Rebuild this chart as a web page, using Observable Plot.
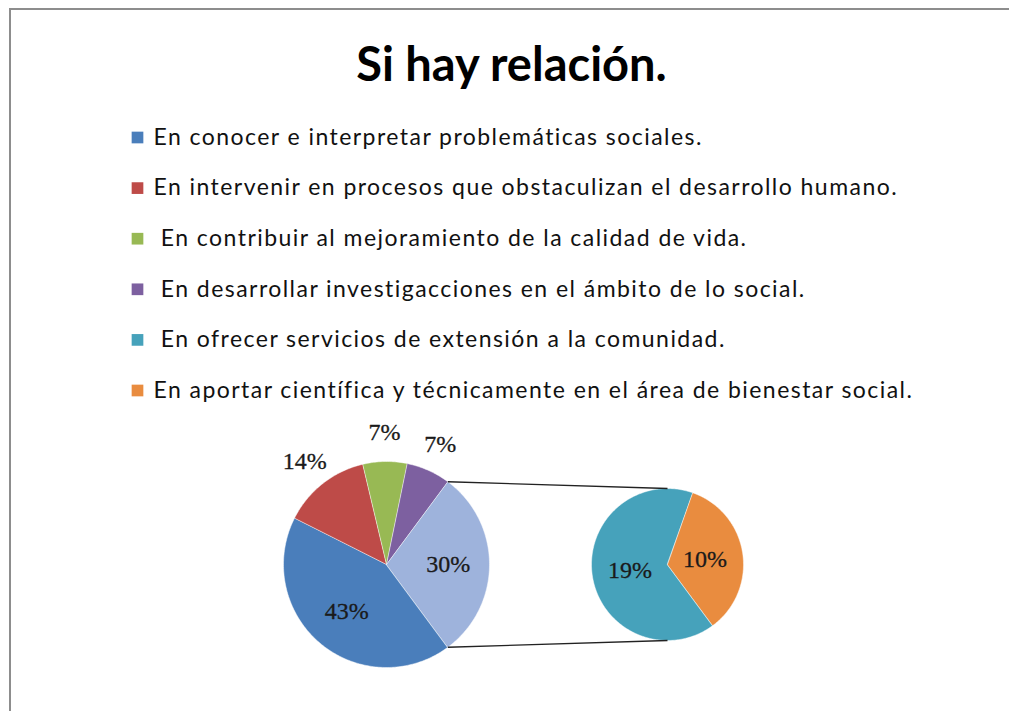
<!DOCTYPE html>
<html>
<head>
<meta charset="utf-8">
<script src="https://cdn.jsdelivr.net/npm/d3@7"></script>
<script src="https://cdn.jsdelivr.net/npm/@observablehq/plot@0.6"></script>
<style>
  html, body { margin: 0; padding: 0; background: #fff; }
  #wrap { position: relative; width: 1009px; height: 711px; overflow: hidden; }
  #frame { position: absolute; left: 9px; top: 8px; right: -4px; bottom: -4px;
           border-top: 2px solid #8d8d8d; border-left: 2px solid #8d8d8d; pointer-events: none; }
  svg text { white-space: pre; }
</style>
</head>
<body>
<div id="wrap"><div id="chart"></div><div id="frame"></div></div>
<script>
// ---- data ----
const titleText = "Si hay relación.";
const categories = [
  "En conocer e interpretar problemáticas sociales.",
  "En intervenir en procesos que obstaculizan el desarrollo humano.",
  " En contribuir al mejoramiento de la calidad de vida.",
  " En desarrollar investigacciones en el ámbito de lo social.",
  " En ofrecer servicios de extensión a la comunidad.",
  "En aportar científica y técnicamente en el área de bienestar social."
];
const percents = [43, 14, 7, 7, 19, 10];
const otherName = "Otros";
const otherPercent = 30;     // label shown on the combined slice
const mainCount = 4;         // first four categories stay in the main pie
const palette = ["#4A7EBB", "#BE4B48", "#98B954", "#7D60A0", "#46A2BB", "#E98C3F", "#9EB3DC"];

// ---- layout ----
const W = 1009, H = 711;
const main = {cx: 386, cy: 564, r: 103};
const second = {cx: 667, cy: 564, r: 76};

function buildSlices(items, pie, start, labelR) {
  const total = d3.sum(items, d => d.value);
  const polys = [], labels = [];
  let a = start;
  for (const it of items) {
    const a0 = a, a1 = a + it.value / total * 2 * Math.PI;
    const n = Math.max(2, Math.ceil((a1 - a0) / (Math.PI / 180)));
    polys.push({cat: it.cat, x: pie.cx, y: pie.cy});
    for (let i = 0; i <= n; i++) {
      const t = a0 + (a1 - a0) * i / n;
      polys.push({cat: it.cat, x: pie.cx + pie.r * Math.cos(t), y: pie.cy + pie.r * Math.sin(t)});
    }
    const m = (a0 + a1) / 2, k = labelR(it.value);
    labels.push({text: it.value + "%", x: pie.cx + pie.r * k * Math.cos(m), y: pie.cy + pie.r * k * Math.sin(m)});
    a = a1;
  }
  return {polys, labels};
}

const mainItems = categories.slice(0, mainCount).map((c, i) => ({cat: c, value: percents[i]}))
  .concat([{cat: otherName, value: otherPercent}]);
const secondItems = categories.slice(mainCount).map((c, i) => ({cat: c, value: percents[mainCount + i]}));

const mainTotal = d3.sum(mainItems, d => d.value);
const half = otherPercent / mainTotal * Math.PI;   // half angle of combined slice
const A = buildSlices(mainItems, main, half, v => v >= 20 ? 0.6 : 1.28);
const B = buildSlices(secondItems, second, half, v => 0.5);

const links = [
  {x1: main.cx + main.r * Math.cos(-half), y1: main.cy + main.r * Math.sin(-half), x2: second.cx, y2: second.cy - second.r},
  {x1: main.cx + main.r * Math.cos(half), y1: main.cy + main.r * Math.sin(half), x2: second.cx, y2: second.cy + second.r}
];

const legend = categories.map((c, i) => ({cat: c, i}));
const rowY = i => 137 + i * 50.6;

const chart = Plot.plot({
  width: W, height: H, margin: 0,
  x: {domain: [0, W], range: [0, W], axis: null},
  y: {domain: [0, H], range: [0, H], axis: null},
  color: {domain: categories.concat([otherName]), range: palette},
  style: {background: "#fff"},
  marks: [
    Plot.text([titleText], {x: () => 511, y: () => 65, text: d => d, fontSize: 47, fontWeight: "bold",
      fontFamily: "Lato", fill: "#000"}),
    Plot.dot(legend, {x: () => 137, y: d => rowY(d.i), symbol: "square", r: 6.6, fill: "cat", stroke: null}),
    Plot.text(legend, {x: () => 153, y: d => rowY(d.i), text: "cat", textAnchor: "start", fontSize: 23,
      fontFamily: "Lato", fill: "#111"}),
    Plot.line(A.polys, {x: "x", y: "y", z: "cat", fill: "cat", stroke: "#fff", strokeOpacity: 0.6, strokeWidth: 0.8, curve: "linear-closed"}),
    Plot.line(B.polys, {x: "x", y: "y", z: "cat", fill: "cat", stroke: "#fff", strokeOpacity: 0.6, strokeWidth: 0.8, curve: "linear-closed"}),
    Plot.link(links, {x1: "x1", y1: "y1", x2: "x2", y2: "y2", stroke: "#222", strokeWidth: 1.4}),
    Plot.text(A.labels.concat(B.labels), {x: "x", y: "y", text: "text", fontSize: 24,
      fontFamily: "Liberation Serif", fill: "#1a1a1a", stroke: "#1a1a1a", strokeWidth: 0.3})
  ]
});
// legend text in the reference is loosely letter-spaced
const textGroups = chart.querySelectorAll('g[aria-label="text"]');
if (textGroups[1]) textGroups[1].setAttribute("letter-spacing", "1.45");
document.getElementById("chart").appendChild(chart);
</script>
</body>
</html>
